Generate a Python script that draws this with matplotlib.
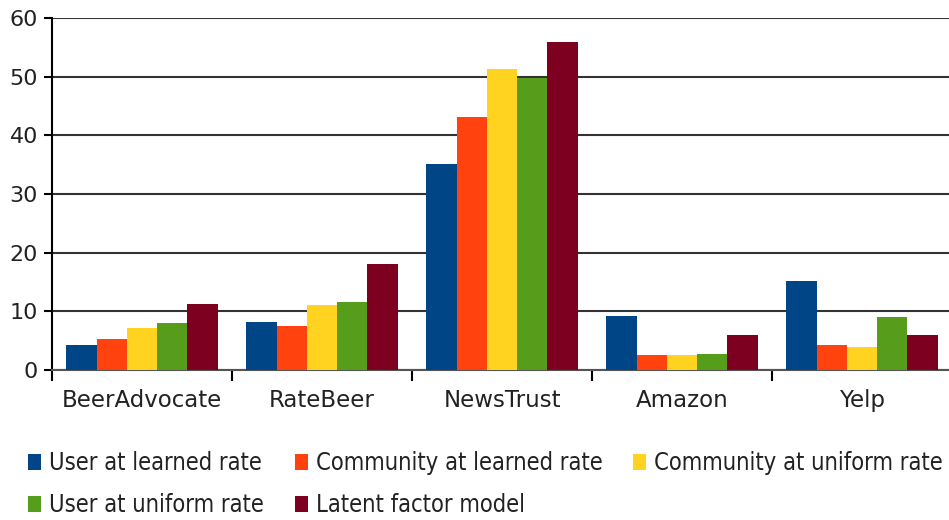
import numpy as np
import matplotlib.pyplot as plt
from matplotlib.font_manager import FontProperties

categories = ["BeerAdvocate", "RateBeer", "NewsTrust", "Amazon", "Yelp"]
series_names = ["User at learned rate", "Community at learned rate",
                "Community at uniform rate", "User at uniform rate",
                "Latent factor model"]
user_learned = [4.2, 8.2, 35.1, 9.2, 15.2]
community_learned = [5.3, 7.5, 43.1, 2.5, 4.2]
community_uniform = [7.2, 11.1, 51.3, 2.5, 3.9]
user_uniform = [8.0, 11.6, 49.8, 2.7, 9.0]
latent_factor = [11.2, 18.1, 55.9, 6.0, 6.0]
colors = ["#004586", "#ff420e", "#ffd320", "#579d1c", "#7e0021"]

values = [user_learned, community_learned, community_uniform, user_uniform, latent_factor]

plt.rcParams['font.family'] = ['DejaVu Sans']
fig = plt.figure(figsize=(9.49, 5.2), dpi=100)
ax = fig.add_axes([52 / 949, 1 - 370 / 520, 900 / 949, 352 / 520])

x = np.arange(len(categories))
w = 0.168
handles = []
for i, (vals, name, c) in enumerate(zip(values, series_names, colors)):
    b = ax.bar(x + (i - 2) * w, vals, w, color=c, label=name, zorder=3)
    handles.append(b)

ax.set_xlim(-0.5, 4.5)
ax.set_ylim(0, 60)
ax.set_yticks(range(0, 61, 10))
ax.yaxis.grid(True, color="#333333", linewidth=1.5, zorder=0)
ax.set_axisbelow(True)
ax.set_xticks(x)
ax.set_xticklabels(categories, fontsize=16.5, color="#222222")
ax.tick_params(axis='x', length=0, pad=14)
ax.set_xticks(np.arange(-0.5, 5, 1), minor=True)
ax.tick_params(axis='x', which='minor', length=8, width=1.5, color="black")
ax.tick_params(axis='y', length=6, width=1.5, labelsize=16, labelcolor="#222222", pad=4)
for s in ['top', 'right']:
    ax.spines[s].set_visible(False)
ax.spines['left'].set_linewidth(1.5)
ax.spines['bottom'].set_linewidth(1.5)
ax.spines['bottom'].set_color("#555555")

# legend in row order, 3 columns
order = [0, 3, 1, 4, 2]
leg_font = FontProperties(family='DejaVu Sans', stretch='condensed', size=17)
leg = fig.legend([handles[i] for i in order], [series_names[i] for i in order],
                 ncol=3, loc='lower left', bbox_to_anchor=(23 / 949, -2 / 520),
                 frameon=False, prop=leg_font, handlelength=0.55, handleheight=0.68,
                 handletextpad=0.35, columnspacing=1.3, labelspacing=0.77,
                 borderaxespad=0.0, borderpad=0.2)
for t in leg.get_texts():
    t.set_color("#222222")

fig.savefig("out.png", dpi=100)
